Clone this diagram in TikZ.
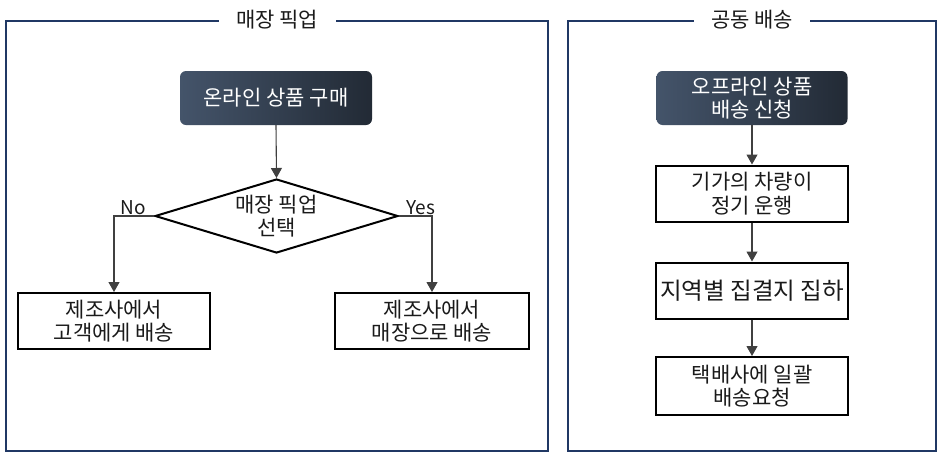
\documentclass[tikz,border=0pt]{standalone}
\usepackage{fontspec}
\setmainfont{Noto Sans CJK KR}
\usetikzlibrary{shapes.geometric,arrows.meta}
\definecolor{framec}{HTML}{203864}
\definecolor{gradL}{HTML}{44546A}
\definecolor{gradR}{HTML}{222A35}
\definecolor{linec}{HTML}{404040}
\definecolor{txtc}{HTML}{1A1A1A}
\newcommand{\bodyfont}{\fontsize{21}{23.5}\selectfont}
\begin{document}
\begin{tikzpicture}[x=1pt,y=-1pt,
 panel/.style={draw=framec,line width=2pt,inner sep=0pt},
 ptitle/.style={fill=white,inner xsep=0pt,inner ysep=2pt,text=txtc,font=\bodyfont},
 startbox/.style={rounded corners=6pt,left color=gradL,right color=gradR,text=white,
   inner sep=0pt,align=center,font=\bodyfont},
 procbox/.style={draw=black,line width=2pt,fill=white,text=txtc,inner sep=0pt,
   minimum width=192pt,minimum height=56pt,align=center,font=\bodyfont},
 decision/.style={diamond,draw=black,line width=2pt,fill=white,inner sep=0pt,
   minimum width=243pt,minimum height=74pt},
 dtext/.style={text=txtc,inner sep=0pt,align=center,font=\bodyfont},
 conn/.style={draw=linec,line width=1.1pt,-{Triangle[length=10pt,width=11pt]}},
 lbl/.style={text=txtc,inner sep=0pt,font=\fontsize{19}{22}\selectfont}
]
\useasboundingbox (0,0) rectangle (941,458);
\fill[white] (0,0) rectangle (941,458);

% panels
\node[panel,minimum width=542pt,minimum height=430pt] (pL) at (277,236) {};
\node[panel,minimum width=368pt,minimum height=430pt] (pR) at (752,236) {};
\node[ptitle,minimum width=117pt] (tL) at (pL.north) {매장 픽업};
\node[ptitle,minimum width=116pt] (tR) at (pR.north) {공동 배송};

% left flow
\node[startbox,minimum width=192pt,minimum height=54pt] (s1) at (276,98) {온라인 상품 구매};
\node[decision] (d1) at (276.5,216) {};
\node[dtext] (d1t) at (d1.center) {매장 픽업\\선택};
\node[procbox] (b1) at (114,321) {제조사에서\\고객에게 배송};
\node[procbox,minimum width=194pt] (b2) at (432,321) {제조사에서\\매장으로 배송};

\draw[conn] (s1.south) -- (d1.north);
\draw[conn] (d1.west) -| (b1.north);
\draw[conn] (d1.east) -| (b2.north);
\node[lbl] (lno) at (133,208) {No};
\node[lbl] (lyes) at (421,208) {Yes};

% right flow
\node[startbox,minimum width=191pt,minimum height=54pt] (s2) at (752,98) {오프라인 상품\\배송 신청};
\node[procbox] (r1) at (752,193.5) {기가의 차량이\\정기 운행};
\node[procbox] (r2) at (752,290.5) {\fontsize{23.5}{26}\selectfont 지역별 집결지 집하};
\node[procbox,minimum height=58pt] (r3) at (752,386) {택배사에 일괄\\배송요청};

\draw[conn] (s2.south) -- (r1.north);
\draw[conn] (r1.south) -- (r2.north);
\draw[conn] (r2.south) -- (r3.north);
\end{tikzpicture}
\end{document}
